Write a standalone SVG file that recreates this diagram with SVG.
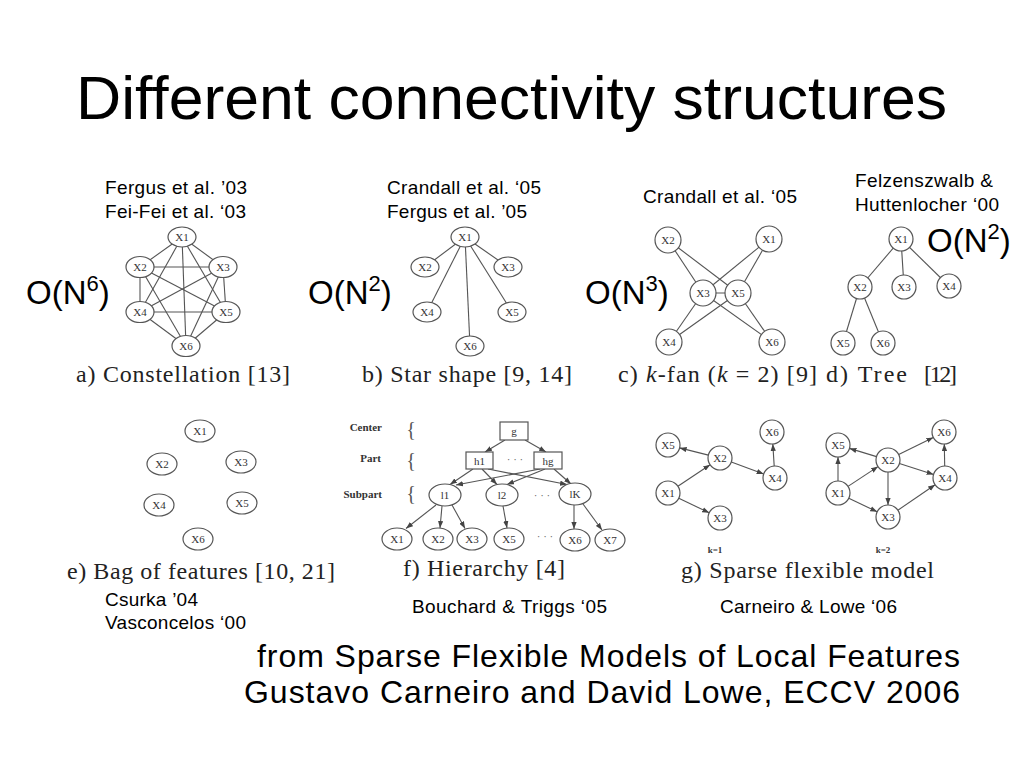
<svg xmlns="http://www.w3.org/2000/svg" width="1024" height="768" viewBox="0 0 1024 768">
<defs>
<style>
.bg{fill:#fff}
.title{font-family:"Liberation Sans",Arial,sans-serif;font-size:62px;fill:#000}
.cite{font-family:"Liberation Sans",Arial,sans-serif;font-size:19px;fill:#000}
.big{font-family:"Liberation Sans",Arial,sans-serif;font-size:33px;fill:#000}
.src{font-family:"Liberation Sans",Arial,sans-serif;font-size:32px;fill:#000}
.cap{font-family:"Liberation Serif","Times New Roman",serif;font-size:24px;fill:#222}
.node ellipse,.node circle,.node rect{fill:#fff;stroke:#555;stroke-width:1.2}
.node text{font-family:"Liberation Serif","Times New Roman",serif;font-size:11px;fill:#333;text-anchor:middle}
.edges line{stroke:#555;stroke-width:1.1}
.edges .arr{marker-end:url(#ah)}
.lvl{font-family:"Liberation Serif","Times New Roman",serif;font-size:11px;font-weight:bold;fill:#333;text-anchor:end}
.brace{font-family:"Liberation Serif","Times New Roman",serif;font-size:20px;fill:#555;text-anchor:middle}
.dots{font-family:"Liberation Serif","Times New Roman",serif;font-size:11px;fill:#666;text-anchor:middle}
.kl{font-family:"Liberation Serif","Times New Roman",serif;font-size:9px;font-weight:bold;fill:#333;text-anchor:middle}
</style>
<marker id="ah" viewBox="0 0 8 6" refX="8" refY="3" markerWidth="7" markerHeight="5.5" markerUnits="userSpaceOnUse" orient="auto">
<path d="M0,0 L8,3 L0,6 z" fill="#444"/>
</marker>
</defs>
<rect class="bg" x="0" y="0" width="1024" height="768"/>

<text class="title" x="76" y="119" textLength="871" lengthAdjust="spacingAndGlyphs">Different connectivity structures</text>

<g id="citations">
<text class="cite" x="105" y="194" textLength="142">Fergus et al. ’03</text>
<text class="cite" x="105" y="218" textLength="141">Fei-Fei et al. ‘03</text>
<text class="cite" x="387" y="194" textLength="154">Crandall et al. ‘05</text>
<text class="cite" x="387" y="218" textLength="140">Fergus et al. ’05</text>
<text class="cite" x="643" y="203" textLength="154">Crandall et al. ‘05</text>
<text class="cite" x="855" y="187" textLength="138">Felzenszwalb &amp;</text>
<text class="cite" x="855" y="211" textLength="144">Huttenlocher ‘00</text>
<text class="cite" x="105" y="605.5" textLength="93">Csurka ’04</text>
<text class="cite" x="105" y="628.5" textLength="141">Vasconcelos ‘00</text>
<text class="cite" x="412" y="613" textLength="195">Bouchard &amp; Triggs ‘05</text>
<text class="cite" x="720" y="613" textLength="177">Carneiro &amp; Lowe ‘06</text>
</g>

<g id="complexity">
<text class="big" x="26" y="304">O(N<tspan font-size="22" dy="-13">6</tspan><tspan dy="13">)</tspan></text>
<text class="big" x="308" y="304">O(N<tspan font-size="22" dy="-13">2</tspan><tspan dy="13">)</tspan></text>
<text class="big" x="585" y="304">O(N<tspan font-size="22" dy="-13">3</tspan><tspan dy="13">)</tspan></text>
<text class="big" x="927" y="252">O(N<tspan font-size="22" dy="-13">2</tspan><tspan dy="13">)</tspan></text>
</g>

<g id="captions">
<text class="cap" x="76" y="382" textLength="214">a) Constellation [13]</text>
<text class="cap" x="362" y="382" textLength="210">b) Star shape [9, 14]</text>
<text class="cap" x="618" y="382" textLength="199">c) <tspan font-style="italic">k</tspan>-fan (<tspan font-style="italic">k</tspan> = 2) [9]</text>
<text class="cap" x="826" y="382" textLength="81">d) Tree</text>
<text class="cap" x="924" y="382" textLength="33">[12]</text>
<text class="cap" x="67" y="579" textLength="268">e) Bag of features [10, 21]</text>
<text class="cap" x="403" y="576" textLength="162">f) Hierarchy [4]</text>
<text class="cap" x="681" y="578" textLength="253">g) Sparse flexible model</text>
</g>

<g id="source">
<text class="src" x="257" y="667" textLength="703">from Sparse Flexible Models of Local Features</text>
<text class="src" x="244" y="703" textLength="716">Gustavo Carneiro and David Lowe, ECCV 2006</text>
</g>

<g id="connectors" class="edges">
<line x1="182" y1="237" x2="140" y2="267"/>
<line x1="182" y1="237" x2="223" y2="267"/>
<line x1="182" y1="237" x2="140" y2="312"/>
<line x1="182" y1="237" x2="226" y2="312"/>
<line x1="182" y1="237" x2="186" y2="346"/>
<line x1="140" y1="267" x2="223" y2="267"/>
<line x1="140" y1="267" x2="140" y2="312"/>
<line x1="140" y1="267" x2="226" y2="312"/>
<line x1="140" y1="267" x2="186" y2="346"/>
<line x1="223" y1="267" x2="140" y2="312"/>
<line x1="223" y1="267" x2="226" y2="312"/>
<line x1="223" y1="267" x2="186" y2="346"/>
<line x1="140" y1="312" x2="226" y2="312"/>
<line x1="140" y1="312" x2="186" y2="346"/>
<line x1="226" y1="312" x2="186" y2="346"/>
<line x1="465" y1="237" x2="425" y2="267"/>
<line x1="465" y1="237" x2="508" y2="267"/>
<line x1="465" y1="237" x2="427" y2="312"/>
<line x1="465" y1="237" x2="512" y2="312"/>
<line x1="465" y1="237" x2="470" y2="346"/>
<line x1="668" y1="240" x2="703" y2="293"/>
<line x1="668" y1="240" x2="738" y2="293"/>
<line x1="769" y1="239" x2="703" y2="293"/>
<line x1="769" y1="239" x2="738" y2="293"/>
<line x1="669" y1="342" x2="703" y2="293"/>
<line x1="669" y1="342" x2="738" y2="293"/>
<line x1="772" y1="342" x2="703" y2="293"/>
<line x1="772" y1="342" x2="738" y2="293"/>
<line x1="703" y1="293" x2="738" y2="293"/>
<line x1="901" y1="239" x2="860" y2="287"/>
<line x1="901" y1="239" x2="904" y2="287"/>
<line x1="901" y1="239" x2="949" y2="286"/>
<line x1="860" y1="287" x2="843" y2="343"/>
<line x1="860" y1="287" x2="883" y2="343"/>
<line class="arr" x1="505" y1="440" x2="485" y2="452"/>
<line class="arr" x1="525" y1="440" x2="546" y2="452"/>
<line class="arr" x1="473" y1="469" x2="450" y2="484.5"/>
<line class="arr" x1="482" y1="469" x2="497" y2="484.5"/>
<line class="arr" x1="488" y1="469" x2="567" y2="484.5"/>
<line class="arr" x1="540" y1="469" x2="456" y2="485"/>
<line class="arr" x1="545" y1="469" x2="507" y2="484.5"/>
<line class="arr" x1="554" y1="469" x2="571" y2="484"/>
<line class="arr" x1="436" y1="505" x2="406" y2="528.5"/>
<line class="arr" x1="442" y1="506" x2="440" y2="528"/>
<line class="arr" x1="452" y1="505" x2="465" y2="528.5"/>
<line class="arr" x1="503" y1="506" x2="507" y2="528"/>
<line class="arr" x1="574" y1="505" x2="574" y2="529"/>
<line class="arr" x1="583" y1="504" x2="602" y2="530"/>
<line class="arr" x1="708.4" y1="455.1" x2="679.6" y2="447.9"/>
<line class="arr" x1="677.9" y1="486.3" x2="710.1" y2="464.7"/>
<line class="arr" x1="731.3" y1="462.1" x2="763.7" y2="473.9"/>
<line class="arr" x1="774.2" y1="466" x2="772.8" y2="444"/>
<line class="arr" x1="678.8" y1="498.2" x2="709.2" y2="512.8"/>
<line class="arr" x1="876.5" y1="456.6" x2="849.5" y2="448.4"/>
<line class="arr" x1="838" y1="481" x2="838" y2="457"/>
<line class="arr" x1="848" y1="486.4" x2="878" y2="466.6"/>
<line class="arr" x1="848.8" y1="498.2" x2="877.2" y2="511.8"/>
<line class="arr" x1="888" y1="472" x2="888" y2="505"/>
<line class="arr" x1="898.7" y1="454.6" x2="933.3" y2="437.4"/>
<line class="arr" x1="899.4" y1="463.6" x2="933.6" y2="474.4"/>
<line class="arr" x1="897.9" y1="510.2" x2="935.1" y2="484.8"/>
<line class="arr" x1="944.7" y1="466" x2="944.3" y2="444"/>
</g>

<g id="a-x1" class="node"><ellipse cx="182" cy="237" rx="14" ry="10"/><text x="182" y="241">X1</text></g>
<g id="a-x2" class="node"><ellipse cx="140" cy="267" rx="14" ry="10.5"/><text x="140" y="271">X2</text></g>
<g id="a-x3" class="node"><ellipse cx="223" cy="267" rx="14" ry="10.5"/><text x="223" y="271">X3</text></g>
<g id="a-x4" class="node"><ellipse cx="140" cy="312" rx="14" ry="10.5"/><text x="140" y="316">X4</text></g>
<g id="a-x5" class="node"><ellipse cx="226" cy="312" rx="14" ry="10.5"/><text x="226" y="316">X5</text></g>
<g id="a-x6" class="node"><ellipse cx="186" cy="346" rx="14" ry="10.5"/><text x="186" y="350">X6</text></g>

<g id="b-x1" class="node"><ellipse cx="465" cy="237" rx="14" ry="10"/><text x="465" y="241">X1</text></g>
<g id="b-x2" class="node"><ellipse cx="425" cy="267" rx="14" ry="10"/><text x="425" y="271">X2</text></g>
<g id="b-x3" class="node"><ellipse cx="508" cy="267" rx="14" ry="10"/><text x="508" y="271">X3</text></g>
<g id="b-x4" class="node"><ellipse cx="427" cy="312" rx="14" ry="10"/><text x="427" y="316">X4</text></g>
<g id="b-x5" class="node"><ellipse cx="512" cy="312" rx="14" ry="10"/><text x="512" y="316">X5</text></g>
<g id="b-x6" class="node"><ellipse cx="470" cy="346" rx="14" ry="10"/><text x="470" y="350">X6</text></g>

<g id="c-x2" class="node"><circle cx="668" cy="240" r="13"/><text x="668" y="244">X2</text></g>
<g id="c-x1" class="node"><circle cx="769" cy="239" r="13"/><text x="769" y="243">X1</text></g>
<g id="c-x3" class="node"><circle cx="703" cy="293" r="13"/><text x="703" y="297">X3</text></g>
<g id="c-x5" class="node"><circle cx="738" cy="293" r="13"/><text x="738" y="297">X5</text></g>
<g id="c-x4" class="node"><circle cx="669" cy="342" r="13"/><text x="669" y="346">X4</text></g>
<g id="c-x6" class="node"><circle cx="772" cy="342" r="13"/><text x="772" y="346">X6</text></g>

<g id="d-x1" class="node"><circle cx="901" cy="239" r="12"/><text x="901" y="243">X1</text></g>
<g id="d-x2" class="node"><circle cx="860" cy="287" r="12"/><text x="860" y="291">X2</text></g>
<g id="d-x3" class="node"><circle cx="904" cy="287" r="12"/><text x="904" y="291">X3</text></g>
<g id="d-x4" class="node"><circle cx="949" cy="286" r="12"/><text x="949" y="290">X4</text></g>
<g id="d-x5" class="node"><circle cx="843" cy="343" r="12"/><text x="843" y="347">X5</text></g>
<g id="d-x6" class="node"><circle cx="883" cy="343" r="12"/><text x="883" y="347">X6</text></g>

<g id="e-x1" class="node"><ellipse cx="200" cy="431" rx="15" ry="11"/><text x="200" y="435">X1</text></g>
<g id="e-x2" class="node"><ellipse cx="162" cy="464" rx="15" ry="11"/><text x="162" y="468">X2</text></g>
<g id="e-x3" class="node"><ellipse cx="241" cy="462" rx="15" ry="11"/><text x="241" y="466">X3</text></g>
<g id="e-x4" class="node"><ellipse cx="159" cy="505" rx="15" ry="11"/><text x="159" y="509">X4</text></g>
<g id="e-x5" class="node"><ellipse cx="242" cy="503" rx="15" ry="11"/><text x="242" y="507">X5</text></g>
<g id="e-x6" class="node"><ellipse cx="198" cy="539" rx="15" ry="11"/><text x="198" y="543">X6</text></g>

<g id="f-levels">
<text class="lvl" x="382" y="431">Center</text>
<text class="lvl" x="381" y="462">Part</text>
<text class="lvl" x="382" y="498">Subpart</text>
<text class="brace" x="411" y="436">{</text>
<text class="brace" x="411" y="467">{</text>
<text class="brace" x="411" y="500">{</text>
<text class="dots" x="515" y="463">· · ·</text>
<text class="dots" x="542" y="499">· · ·</text>
<text class="dots" x="545" y="540">· · ·</text>
</g>
<g id="f-g" class="node"><rect x="500" y="422" width="28" height="18"/><text x="514" y="435">g</text></g>
<g id="f-h1" class="node"><rect x="466" y="452" width="27" height="17"/><text x="479.5" y="464.5">h1</text></g>
<g id="f-hg" class="node"><rect x="534" y="452" width="28" height="17"/><text x="548" y="464.5">hg</text></g>
<g id="f-l1" class="node"><ellipse cx="445" cy="495" rx="16" ry="11"/><text x="445" y="499">l1</text></g>
<g id="f-l2" class="node"><ellipse cx="502" cy="495" rx="16" ry="11"/><text x="502" y="499">l2</text></g>
<g id="f-lk" class="node"><ellipse cx="575" cy="494" rx="16" ry="11"/><text x="575" y="498">lK</text></g>
<g id="f-x1" class="node"><ellipse cx="397" cy="539" rx="15" ry="11"/><text x="397" y="543">X1</text></g>
<g id="f-x2" class="node"><ellipse cx="438" cy="539" rx="15" ry="11"/><text x="438" y="543">X2</text></g>
<g id="f-x3" class="node"><ellipse cx="472" cy="539" rx="15" ry="11"/><text x="472" y="543">X3</text></g>
<g id="f-x5" class="node"><ellipse cx="509" cy="539" rx="15" ry="11"/><text x="509" y="543">X5</text></g>
<g id="f-x6" class="node"><ellipse cx="575" cy="540" rx="15" ry="11"/><text x="575" y="544">X6</text></g>
<g id="f-x7" class="node"><ellipse cx="610" cy="540" rx="15" ry="11"/><text x="610" y="544">X7</text></g>

<g id="g1-x5" class="node"><circle cx="668" cy="445" r="12"/><text x="668" y="449">X5</text></g>
<g id="g1-x2" class="node"><circle cx="720" cy="458" r="12"/><text x="720" y="462">X2</text></g>
<g id="g1-x6" class="node"><circle cx="772" cy="432" r="12"/><text x="772" y="436">X6</text></g>
<g id="g1-x4" class="node"><circle cx="775" cy="478" r="12"/><text x="775" y="482">X4</text></g>
<g id="g1-x1" class="node"><circle cx="668" cy="493" r="12"/><text x="668" y="497">X1</text></g>
<g id="g1-x3" class="node"><circle cx="720" cy="518" r="12"/><text x="720" y="522">X3</text></g>
<text class="kl" x="715" y="553">k=1</text>

<g id="g2-x5" class="node"><circle cx="838" cy="445" r="12"/><text x="838" y="449">X5</text></g>
<g id="g2-x2" class="node"><circle cx="888" cy="460" r="12"/><text x="888" y="464">X2</text></g>
<g id="g2-x6" class="node"><circle cx="944" cy="432" r="12"/><text x="944" y="436">X6</text></g>
<g id="g2-x4" class="node"><circle cx="945" cy="478" r="12"/><text x="945" y="482">X4</text></g>
<g id="g2-x1" class="node"><circle cx="838" cy="493" r="12"/><text x="838" y="497">X1</text></g>
<g id="g2-x3" class="node"><circle cx="888" cy="517" r="12"/><text x="888" y="521">X3</text></g>
<text class="kl" x="883" y="553">k=2</text>
</svg>
